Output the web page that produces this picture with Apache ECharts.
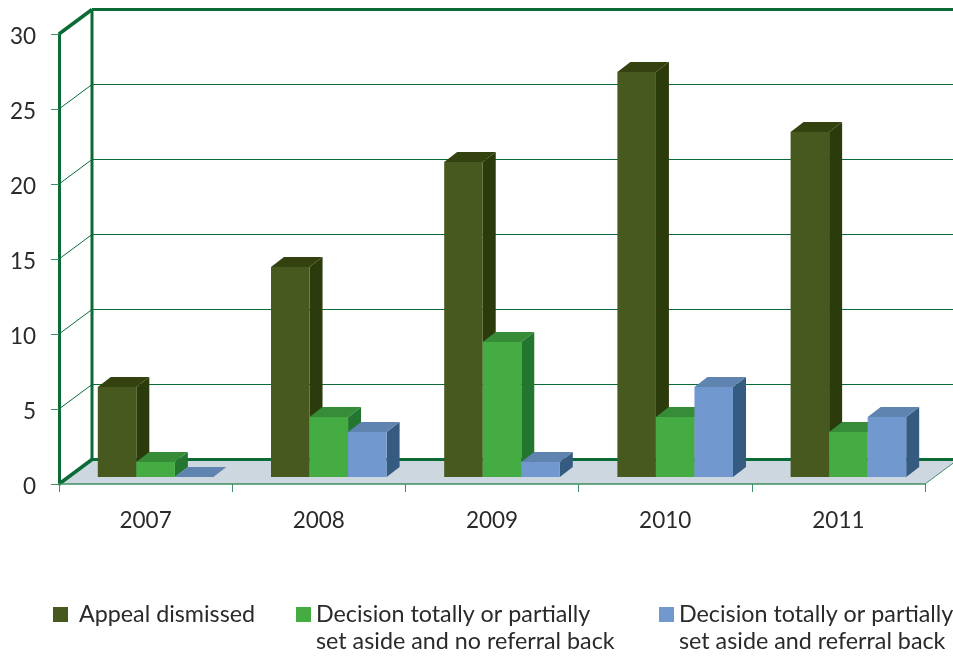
<!DOCTYPE html>
<html>
<head>
<meta charset="utf-8">
<style>html,body{margin:0;padding:0;background:#fff}#chart{width:953px;height:656px}</style>
<script src="https://cdn.jsdelivr.net/npm/echarts@6/dist/echarts.min.js"></script>
</head>
<body>
<div id="chart"></div>
<script>
const years = ['2007', '2008', '2009', '2010', '2011'];
const appealDismissed = [6, 14, 21, 27, 23];
const noReferralBack = [1, 4, 9, 4, 3];
const referralBack = [0, 3, 1, 6, 4];
const yTicks = [0, 5, 10, 15, 20, 25, 30];

const nameA = 'Appeal dismissed';
const nameB = 'Decision totally or partially\nset aside and no referral back';
const nameC = 'Decision totally or partially\nset aside and referral back';

const FONT = 'Lato';
const TEXT = '#2b2a2b';
const WALL = '#0b6b36';
const THIN = '#3f8f62';
const DX = 33, DY = -24.5;     // wall depth
const PX = 10, PY = -7;        // bar plane offset from the axis plane
const BX = 13, BY = -10;       // bar depth

function barRender(idx, front, top, side) {
  return function (params, api) {
    const band = api.size([1, 0])[0];
    const w = band * 0.2225;
    const base = api.coord([api.value(0), 0]);
    const peak = api.coord([api.value(0), api.value(1)]);
    const x0 = base[0] + PX + (idx - 1.5) * w;
    const x1 = x0 + w;
    const yb = base[1] + PY;
    const yt = peak[1] + PY;
    const poly = (pts, fill) => ({ type: 'polygon', shape: { points: pts }, style: { fill: fill } });
    return {
      type: 'group',
      children: [
        poly([[x1, yb], [x1 + BX, yb + BY], [x1 + BX, yt + BY], [x1, yt]], side),
        poly([[x0, yt], [x0 + BX, yt + BY], [x1 + BX, yt + BY], [x1, yt]], top),
        poly([[x0, yb], [x1, yb], [x1, yt], [x0, yt]], front)
      ]
    };
  };
}

function wallRender(params, api) {
  const v = api.value(0);
  const rect = params.coordSys;
  const y = api.coord([0, v])[1];
  const xl = rect.x, xr = rect.x + rect.width;
  const line = (x1, y1, x2, y2, c, lw) => ({
    type: 'line', shape: { x1, y1, x2, y2 }, style: { stroke: c, lineWidth: lw }
  });
  const children = [];
  const edge = v === 0 || v === 30;
  if (v === 0) {
    children.push({
      type: 'polygon',
      shape: { points: [[xl, y], [xl + DX, y + DY], [xr + DX, y + DY], [xr, y]] },
      style: { fill: '#cdd7e0' }
    });
    children.push(line(xr, y, xr + DX, y + DY, THIN, 1));
    const yTop = api.coord([0, 30])[1];
    children.push(line(xl + DX, y + DY, xl + DX, yTop + DY, WALL, 3));
  }
  children.push(line(xl, y, xl + DX, y + DY, WALL, edge ? 3.5 : 1));
  children.push(line(xl + DX, y + DY, xr + DX, y + DY, WALL, edge ? 3 : 1));
  return { type: 'group', children };
}

function barSeries(name, values, idx, front, top, side) {
  return {
    name: name,
    type: 'custom',
    z: 3 + idx,
    silent: true,
    clip: false,
    itemStyle: { color: front },
    renderItem: barRender(idx, front, top, side),
    encode: { x: 0, y: 1 },
    data: values.map((v, i) => [i, v])
  };
}

const legendBase = {
  orient: 'horizontal',
  icon: 'rect',
  itemWidth: 15,
  itemHeight: 15,
  itemGap: 0,
  padding: 0,
  selectedMode: false
};
const legendText = { fontFamily: FONT, fontSize: 23.3, color: TEXT, lineHeight: 27 };
// A leading blank line puts the first text line level with the legend square.
const firstLineOnIcon = name => '\n' + name;

const chart = echarts.init(document.getElementById('chart'), null, { renderer: 'canvas' });
chart.setOption({
  animation: false,
  backgroundColor: '#ffffff',
  grid: { left: 59, right: 28, top: 34, bottom: 172, containLabel: false },
  xAxis: {
    type: 'category',
    data: years,
    z: 6,
    axisLine: { lineStyle: { color: THIN, width: 1.5 } },
    axisTick: { show: true, alignWithLabel: false, length: 8, lineStyle: { color: THIN, width: 1 } },
    axisLabel: { fontFamily: FONT, fontSize: 22.5, color: TEXT, margin: 25 }
  },
  yAxis: {
    type: 'value',
    min: 0,
    max: 30,
    interval: 5,
    z: 6,
    axisLine: { show: true, lineStyle: { color: WALL, width: 3 } },
    axisTick: { show: true, length: 8, lineStyle: { color: THIN, width: 1 } },
    axisLabel: {
      margin: 23,
      formatter: '{t|{value}}',
      rich: { t: { fontFamily: FONT, fontSize: 22.5, color: TEXT, padding: [5, 0, 0, 0] } }
    },
    splitLine: { show: false }
  },
  legend: [
    Object.assign({}, legendBase, {
      left: 53, top: 601, data: [nameA], formatter: name => ' ' + name, textStyle: legendText
    }),
    Object.assign({}, legendBase, {
      left: 296, top: 574, data: [nameB], formatter: firstLineOnIcon, textStyle: legendText
    }),
    Object.assign({}, legendBase, {
      left: 659, top: 574, data: [nameC], formatter: firstLineOnIcon, textStyle: legendText
    })
  ],
  series: [
    {
      name: 'wall',
      type: 'custom',
      z: 1,
      silent: true,
      clip: false,
      renderItem: wallRender,
      encode: { y: 0 },
      data: yTicks.map(v => [v])
    },
    barSeries(nameA, appealDismissed, 0, '#47591f', '#34420f', '#2c3b0b'),
    barSeries(nameB, noReferralBack, 1, '#45ac43', '#378c37', '#23762f'),
    barSeries(nameC, referralBack, 2, '#7199d0', '#6084b0', '#355c80')
  ]
});
</script>
</body>
</html>
